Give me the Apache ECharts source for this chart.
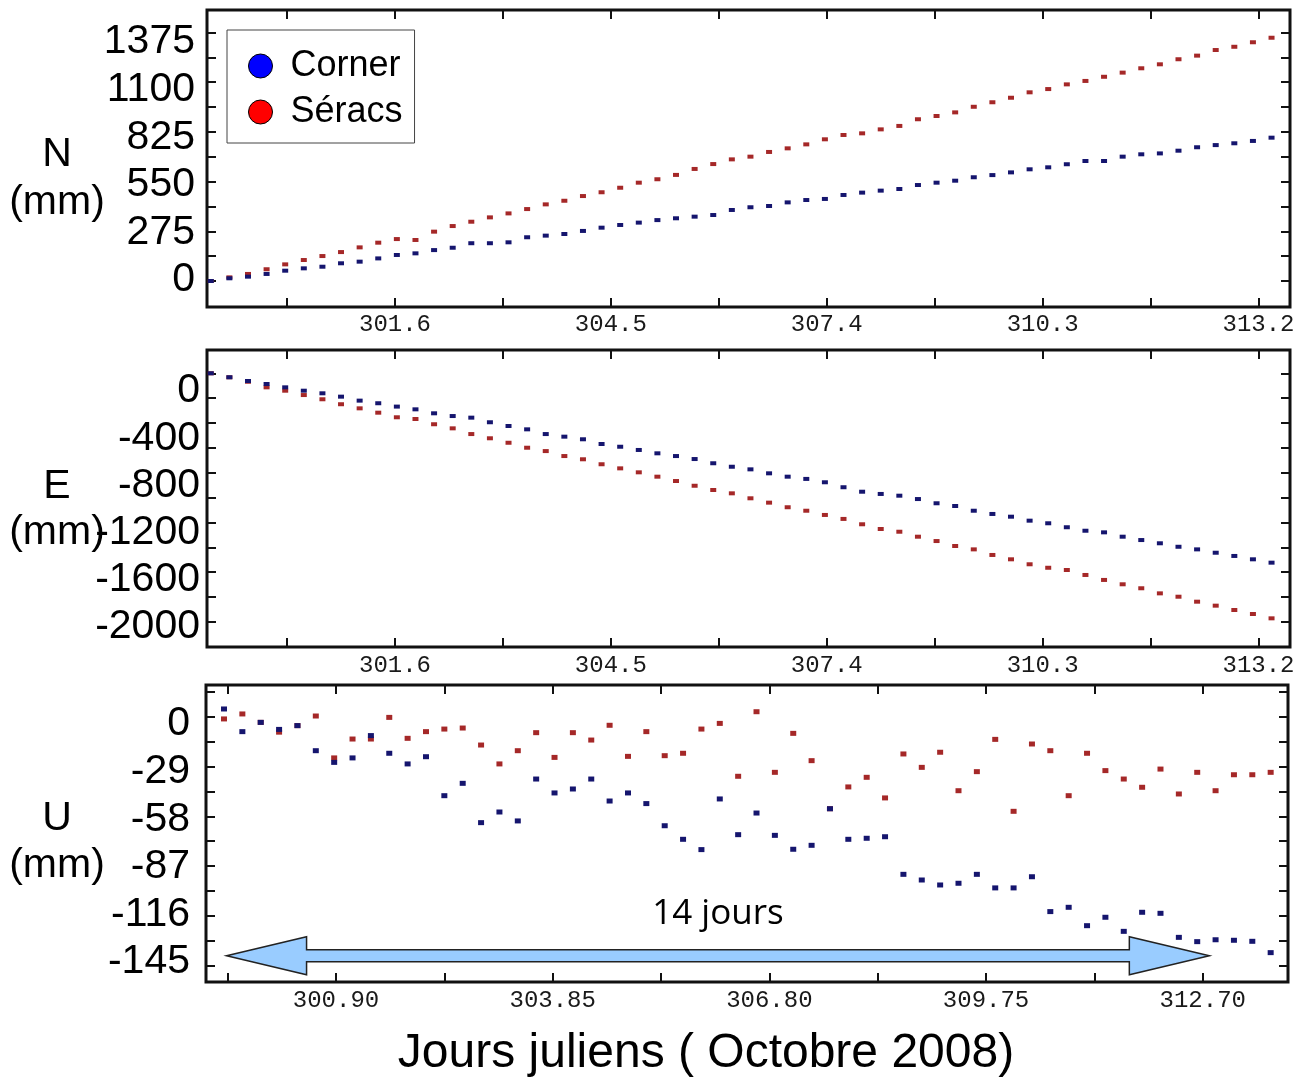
<!DOCTYPE html>
<html>
<head>
<meta charset="utf-8">
<title>Corner / Séracs</title>
<script src="https://cdn.jsdelivr.net/npm/echarts@6/dist/echarts.min.js"></script>
<style>
    html, body { margin: 0; padding: 0; background: #fff; }
    #main { width: 1294px; height: 1080px; }
</style>
</head>
<body>
<div id="main"></div>
<script>
// jours juliens (pas de 6 h)
const dayNE = [299.125, 299.375, 299.625, 299.875, 300.125, 300.375, 300.625, 300.875, 301.125, 301.375,
    301.625, 301.875, 302.125, 302.375, 302.625, 302.875, 303.125, 303.375, 303.625, 303.875,
    304.125, 304.375, 304.625, 304.875, 305.125, 305.375, 305.625, 305.875, 306.125, 306.375,
    306.625, 306.875, 307.125, 307.375, 307.625, 307.875, 308.125, 308.375, 308.625, 308.875,
    309.125, 309.375, 309.625, 309.875, 310.125, 310.375, 310.625, 310.875, 311.125, 311.375,
    311.625, 311.875, 312.125, 312.375, 312.625, 312.875, 313.125, 313.375];
const dayU = [299.125, 299.375, 299.625, 299.875, 300.125, 300.375, 300.625, 300.875, 301.125, 301.375,
    301.625, 301.875, 302.125, 302.375, 302.625, 302.875, 303.125, 303.375, 303.625, 303.875,
    304.125, 304.375, 304.625, 304.875, 305.125, 305.375, 305.625, 305.875, 306.125, 306.375,
    306.625, 306.875, 307.125, 307.375, 307.625, 307.875, 308.125, 308.375, 308.625, 308.875,
    309.125, 309.375, 309.625, 309.875, 310.125, 310.375, 310.625, 310.875, 311.125, 311.375,
    311.625, 311.875, 312.125, 312.375, 312.625, 312.875, 313.125, 313.375, 313.625];

// N (mm)
const nCorner = [0, 15, 24, 39, 57, 70, 79, 98, 107, 125, 144, 153, 171, 184, 209, 209, 214, 242, 251, 260,
    277, 295, 310, 323, 337, 347, 356, 365, 393, 408, 415, 435, 448, 454, 476, 489, 500, 509, 531, 544,
    555, 574, 586, 601, 618, 629, 646, 664, 664, 688, 701, 706, 721, 740, 752, 762, 775, 793];
const nSeracs = [0, 20, 39, 65, 92, 116, 138, 160, 186, 212, 232, 227, 273, 304, 328, 352, 374, 398, 424, 444,
    470, 491, 516, 544, 563, 587, 620, 647, 673, 688, 714, 734, 756, 784, 808, 817, 839, 858, 895, 913,
    933, 964, 989, 1014, 1044, 1062, 1088, 1107, 1130, 1153, 1177, 1199, 1227, 1247, 1278, 1296, 1321, 1346];

// E (mm)
const eCorner = [0, -32, -62, -86, -113, -140, -161, -188, -220, -241, -268, -290, -322, -344, -357, -394,
    -424, -451, -489, -510, -531, -569, -591, -617, -644, -666, -690, -724, -752, -773, -805, -832,
    -850, -877, -917, -953, -971, -985, -1012, -1046, -1068, -1106, -1132, -1154, -1186, -1207, -1239,
    -1267, -1280, -1315, -1342, -1368, -1396, -1417, -1444, -1470, -1497, -1524];
const eSeracs = [0, -32, -68, -113, -140, -175, -209, -249, -282, -317, -354, -368, -410, -443, -489, -523,
    -559, -599, -626, -666, -692, -732, -765, -797, -832, -867, -905, -939, -966, -1006, -1041, -1078,
    -1106, -1140, -1172, -1215, -1253, -1275, -1315, -1350, -1390, -1417, -1462, -1497, -1537, -1565,
    -1583, -1623, -1663, -1698, -1730, -1771, -1798, -1838, -1870, -1905, -1937, -1972];

// U (mm)
const uCorner = [0, 4.5, -8.7, -3.3, -7.4, -5.2, -19.8, -26.6, -24.0, -11.0, -21.3, -27.5, -23.3, -46.0,
    -38.8, -61.7, -55.5, -60.7, -36.3, -44.4, -42.1, -36.3, -49.1, -44.4, -50.6, -63.5, -71.4, -77.4,
    -47.9, -68.7, -56.1, -69.1, -77.2, -74.9, -53.6, -71.4, -70.8, -69.9, -91.8, -95.1, -98.0, -97.0,
    -91.8, -99.7, -99.7, -93.2, -113.5, -111.0, -121.7, -116.8, -125.0, -113.9, -114.5, -128.5, -131.0,
    -129.9, -130.2, -130.8, -137.4];
const uSeracs = [0, -1.3, 1.6, -3.3, -9.0, -5.2, 0.4, -24.0, -13.0, -13.0, -0.4, -12.6, -8.7, -7.2, -6.6,
    -16.5, -27.5, -19.8, -9.3, -23.7, -9.3, -13.6, -5.0, -23.1, -8.7, -22.7, -21.3, -7.2, -3.9, -34.7,
    2.9, -32.4, -9.7, -25.6, -53.6, -40.9, -35.3, -47.3, -21.7, -29.5, -20.7, -43.1, -32.0, -13.2, -55.1,
    -15.9, -19.8, -46.0, -21.3, -31.4, -36.3, -41.1, -30.5, -45.0, -32.4, -43.1, -33.8, -33.8, -32.4];

// libellés des axes
const xLabelsNE = [301.6, 304.5, 307.4, 310.3, 313.2];
const xMarksNE = [300.15, 301.6, 303.05, 304.5, 305.95, 307.4, 308.85, 310.3, 311.75, 313.2];
const xLabelsU = [300.90, 303.85, 306.80, 309.75, 312.70];
const xMarksU = [299.425, 300.90, 302.375, 303.85, 305.325, 306.80, 308.275, 309.75, 311.225, 312.70];
const nLabels = [0, 275, 550, 825, 1100, 1375];
const nMarks = [0, 137.5, 275, 412.5, 550, 687.5, 825, 962.5, 1100, 1237.5, 1375];
const eLabels = [0, -400, -800, -1200, -1600, -2000];
const eMarks = [0, -200, -400, -600, -800, -1000, -1200, -1400, -1600, -1800, -2000];
const uLabels = [0, -29, -58, -87, -116, -145];
const uMarks = [14.5, 0, -14.5, -29, -43.5, -58, -72.5, -87, -101.5, -116, -130.5, -145];

// flèche "14 jours"
const arrowFrom = 299.41, arrowTo = 312.79, arrowU = -139.2;

const chart = echarts.init(document.getElementById('main'));

const tickStyle = {color: '#111', width: 2};

function xPair(grid, min, max, labels, marks, digits, margin) {
    const base = {
        type: 'value', gridIndex: grid, min: min, max: max,
        axisLine: {show: false, onZero: false}, splitLine: {show: false}
    };
    return [
        Object.assign({}, base, {
            position: 'bottom',
            axisTick: {show: true, inside: true, length: 9, customValues: marks, lineStyle: tickStyle},
            axisLabel: {
                show: true, customValues: labels, margin: margin,
                fontFamily: 'Liberation Mono', fontSize: 24, color: '#1a1a1a',
                formatter: function (v) { return v.toFixed(digits); }
            }
        }),
        Object.assign({}, base, {
            position: 'top',
            axisTick: {show: true, inside: true, length: 9, customValues: marks, lineStyle: tickStyle},
            axisLabel: {show: false}
        })
    ];
}

function yTriple(grid, min, max, marks, oMin, oMax, labels, margin) {
    const base = {
        type: 'value', gridIndex: grid, min: min, max: max,
        axisLine: {show: false, onZero: false}, splitLine: {show: false}, axisLabel: {show: false},
        axisTick: {show: true, inside: true, length: 9, customValues: marks, lineStyle: tickStyle}
    };
    return [
        Object.assign({}, base, {position: 'left'}),
        Object.assign({}, base, {position: 'right'}),
        {
            type: 'value', gridIndex: grid, position: 'left', min: oMin, max: oMax,
            axisLine: {show: false, onZero: false}, splitLine: {show: false}, axisTick: {show: false},
            axisLabel: {
                show: true, customValues: labels, margin: margin,
                fontFamily: 'Liberation Sans', fontSize: 41, color: '#000',
                formatter: function (v) { return String(v); }
            }
        }
    ];
}

function pairs(days, vals) {
    return days.map(function (d, i) { return [d, vals[i]]; });
}

function dots(name, color, xi, yi, data, size) {
    return {
        name: name, type: 'scatter', xAxisIndex: xi, yAxisIndex: yi,
        symbol: 'rect', symbolSize: size, data: data, silent: true,
        itemStyle: {color: color, opacity: 1}
    };
}

const blue = '#15156e', red = '#a52828';
const gridStyle = {show: true, borderColor: '#111', borderWidth: 3, backgroundColor: '#fff', outerBoundsMode: 'none'};

const option = {
    animation: false,
    backgroundColor: '#fff',
    grid: [
        Object.assign({left: 207, top: 10, width: 1083, height: 297}, gridStyle),
        Object.assign({left: 207, top: 350, width: 1083, height: 297}, gridStyle),
        Object.assign({left: 206, top: 685, width: 1082, height: 297}, gridStyle)
    ],
    xAxis: [].concat(
        xPair(0, 299.0745, 313.623, xLabelsNE, xMarksNE, 1, 6),
        xPair(1, 299.0745, 313.623, xLabelsNE, xMarksNE, 1, 7),
        xPair(2, 299.130, 313.861, xLabelsU, xMarksU, 2, 7)
    ),
    yAxis: [].concat(
        yTriple(0, -143.9, 1499.5, nMarks, -156, 1559.8, nLabels, 12),
        yTriple(1, -2202.7, 187.5, eMarks, -2169.6, 347.5, eLabels, 7),
        yTriple(2, -154.5, 18.46, uMarks, -157.2, 23.76, uLabels, 16)
    ),
    legend: {
        left: 227, top: 30, orient: 'vertical', icon: 'circle',
        itemWidth: 50, itemHeight: 24, itemGap: 10,
        padding: [18, 12, 13, 21],
        backgroundColor: '#fff', borderColor: '#444', borderWidth: 1,
        textStyle: {fontFamily: 'Liberation Sans', fontSize: 36, color: '#000'},
        data: [
            {name: 'Corner', itemStyle: {color: '#0000ff', opacity: 1, borderColor: '#000', borderWidth: 1}},
            {name: 'Séracs', itemStyle: {color: '#ff0000', opacity: 1, borderColor: '#000', borderWidth: 1}}
        ]
    },
    series: [
        dots('Séracs', red, 0, 0, pairs(dayNE, nSeracs), [6, 4]),
        dots('Corner', blue, 0, 0, pairs(dayNE, nCorner), [6, 4]),
        dots('Séracs', red, 2, 3, pairs(dayNE, eSeracs), [6, 4]),
        dots('Corner', blue, 2, 3, pairs(dayNE, eCorner), [6, 4]),
        dots('Séracs', red, 4, 6, pairs(dayU, uSeracs), [6, 5]),
        dots('Corner', blue, 4, 6, pairs(dayU, uCorner), [6, 5])
    ]
};
chart.setOption(option);

// textes et flèche placés après le calcul des axes
const a0 = chart.convertToPixel({xAxisIndex: 4, yAxisIndex: 6}, [arrowFrom, arrowU]);
const a1 = chart.convertToPixel({xAxisIndex: 4, yAxisIndex: 6}, [arrowTo, arrowU]);
const ay = a0[1], head = 80, hw = 19, sw = 6;

function label(text, x, y, size, family) {
    return {
        type: 'text', x: x, y: y, silent: true,
        style: {
            text: text, fill: '#000', textAlign: 'center', textVerticalAlign: 'middle',
            font: size + 'px "' + (family || 'Liberation Sans') + '"'
        }
    };
}

chart.setOption({
    graphic: [
        label('N', 57, 155, 41),
        label('(mm)', 57, 203, 41),
        label('E', 57, 487, 41),
        label('(mm)', 57, 533, 41),
        label('U', 57, 819, 41),
        label('(mm)', 57, 866, 41),
        {
            type: 'polygon', silent: true, z: 10,
            shape: {
                points: [
                    [a0[0], ay], [a0[0] + head, ay - hw], [a0[0] + head, ay - sw],
                    [a1[0] - head, ay - sw], [a1[0] - head, ay - hw], [a1[0], ay],
                    [a1[0] - head, ay + hw], [a1[0] - head, ay + sw],
                    [a0[0] + head, ay + sw], [a0[0] + head, ay + hw]
                ]
            },
            style: {fill: '#99ccff', stroke: '#222', lineWidth: 1.5}
        },
        label('14 jours', (a0[0] + a1[0]) / 2, ay - 42, 35, 'Open Sans'),
        label('Jours juliens ( Octobre 2008)', 706, 1054, 48)
    ]
});

window.onresize = function () {
    chart.resize();
};
</script>
</body>
</html>
